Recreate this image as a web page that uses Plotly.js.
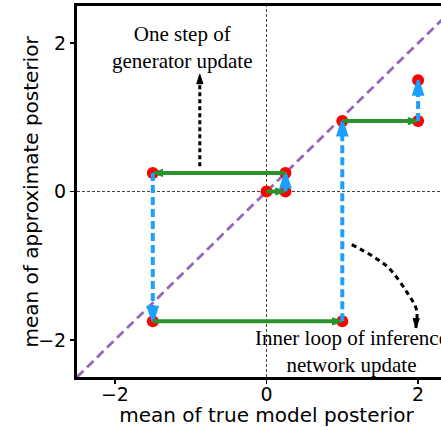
<!DOCTYPE html>
<html><head><meta charset="utf-8">
<script src="https://cdn.plot.ly/plotly-3.0.1.min.js"></script>
<style>html,body{margin:0;padding:0;overflow:hidden;background:#fff}</style>
</head><body><div id="chart" style="width:470px;height:427px"></div>
<script>
// optimisation path: even steps = generator update (green), odd = inference update (blue)
const pathX = [0, 0.25, 0.25, -1.5, -1.5, 1, 1, 2, 2];
const pathY = [0, 0, 0.25, 0.25, -1.75, -1.75, 0.95, 0.95, 1.5];
// identity line
const diagX = [-2.5, 2.5];
const diagY = [-2.5, 2.5];
// straight black dashed arrow (generator note)
const noteArrowX = [-0.88, -0.88];
const noteArrowY = [0.34, 1.58];
// curved black dashed arrow (inference note)
const curveX = [1.125, 1.59, 1.86, 1.98, 1.97];
const curveY = [-0.715, -1.01, -1.37, -1.6, -1.84];
// ticks
const xTicks = [-2, 0, 2];
const yTicks = [-2, 0, 2];
const xTitle = 'mean of true model posterior';
const yTitle = 'mean of approximate posterior';
const noteGen = 'One step of<br>generator update';
const noteInf = 'Inner loop of inference<br>network update';

const GREEN = '#2a922a', BLUE = '#1ba0ff', PURPLE = '#9467bd', RED = '#ff0000';

const traces = [];
traces.push({type:'scatter', mode:'lines', x:diagX, y:diagY,
  line:{color:PURPLE, width:2.8, dash:'9px,5px'}, hoverinfo:'skip'});
traces.push({type:'scatter', mode:'markers', x:pathX, y:pathY,
  marker:{color:RED, size:12}, hoverinfo:'skip', cliponaxis:false});
for (let i = 0; i < pathX.length - 1; i++) {
  const gen = i % 2 === 0;
  const c = gen ? GREEN : BLUE;
  traces.push({type:'scatter', mode:'lines+markers',
    x:[pathX[i], pathX[i+1]], y:[pathY[i], pathY[i+1]],
    line:{color:c, width:4, dash: gen ? 'solid' : '8px,4px'},
    marker:{symbol:['circle','arrow'], size:[1, gen ? 10 : 15], opacity:[0,1],
      angleref:'previous', color:c, line:{color:c, width: gen ? 1.5 : 2.5}},
    hoverinfo:'skip', cliponaxis:false});
}
traces.push({type:'scatter', mode:'lines+markers', x:noteArrowX, y:noteArrowY,
  line:{color:'#000', width:3, dash:'4px,3px'},
  marker:{symbol:['circle','arrow'], size:[1,10], opacity:[0,1], angleref:'previous',
    color:'#000', line:{color:'#000', width:1}}, hoverinfo:'skip'});
traces.push({type:'scatter', mode:'lines+markers', x:curveX, y:curveY,
  line:{color:'#000', width:3, dash:'5px,4px', shape:'spline'},
  marker:{symbol:['circle','circle','circle','circle','arrow'], size:[1,1,1,1,10],
    opacity:[0,0,0,0,1], angleref:'previous', color:'#000', line:{color:'#000', width:1}},
  hoverinfo:'skip', cliponaxis:false});

const axisCommon = {
  showline:true, linewidth:3, linecolor:'#000', mirror:true,
  ticks:'outside', ticklen:4, tickwidth:1.5, tickcolor:'#000',
  showgrid:false, zeroline:false,
  tickfont:{family:'DejaVu Sans', size:19, color:'#000'}
};
const layout = {
  width:470, height:427,
  margin:{l:77, r:14, t:6, b:50},
  paper_bgcolor:'#fff', plot_bgcolor:'#fff',
  showlegend:false,
  xaxis:Object.assign({}, axisCommon, {range:[-2.5,2.5], tickvals:xTicks, ticklabelstandoff:-6,
    title:{text:xTitle, font:{family:'DejaVu Sans', size:20, color:'#000'}, standoff:4}}),
  yaxis:Object.assign({}, axisCommon, {range:[-2.5,2.5], tickvals:yTicks}),
  shapes:[
    {type:'line', xref:'x', yref:'paper', x0:0, x1:0, y0:0, y1:1, layer:'below',
      line:{color:'#444', width:1, dash:'3px,2px'}},
    {type:'line', xref:'paper', yref:'y', x0:0, x1:1, y0:0, y1:0, layer:'below',
      line:{color:'#444', width:1, dash:'3px,2px'}}
  ],
  annotations:[
    {x:-0.124, y:0.5, xref:'paper', yref:'paper', text:yTitle, textangle:-90, showarrow:false,
      font:{family:'DejaVu Sans', size:20, color:'#000'}, xanchor:'center', yanchor:'middle'},
    {x:-1.11, y:1.94, xref:'x', yref:'y', text:noteGen, showarrow:false,
      font:{family:'Liberation Serif', size:21, color:'#000'}, xanchor:'center', yanchor:'middle'},
    {x:1.12, y:-2.15, xref:'x', yref:'y', text:noteInf, showarrow:false,
      font:{family:'Liberation Serif', size:21, color:'#000'}, xanchor:'center', yanchor:'middle'}
  ]
};
Plotly.newPlot('chart', traces, layout, {staticPlot:true, displayModeBar:false});
</script>
</body></html>
